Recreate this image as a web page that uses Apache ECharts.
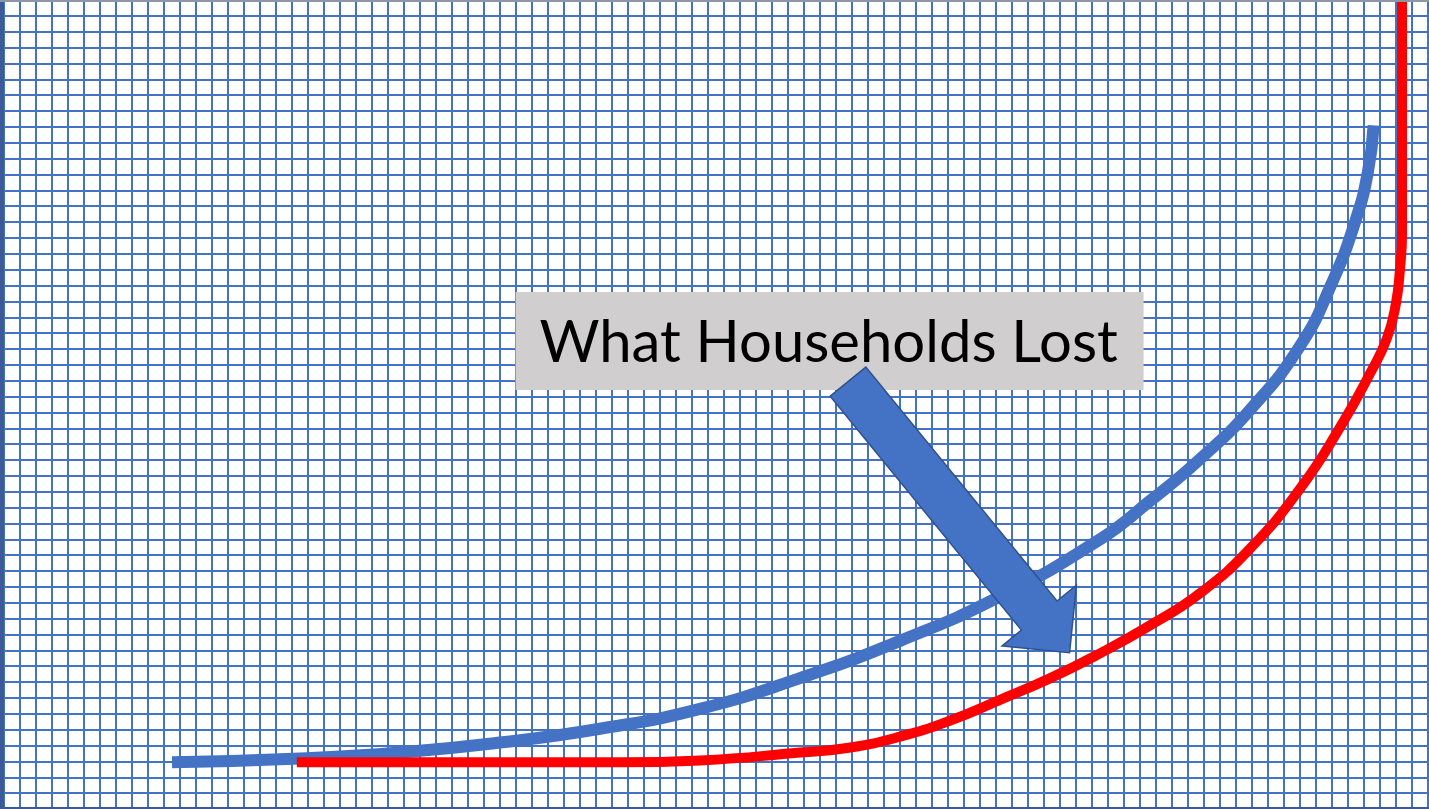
<!DOCTYPE html>
<html>
<head>
<meta charset="utf-8">
<script src="https://cdn.jsdelivr.net/npm/echarts@6/dist/echarts.min.js"></script>
<style>
  html, body { margin: 0; padding: 0; background: #fff; }
  #main { width: 1429px; height: 809px; }
</style>
</head>
<body>
<div id="main"></div>
<script>
// everything is in graph-paper units: one grid square = 1
const blueX = [10.5, 18.5, 24.75, 31.0, 37.25, 43.5, 49.75, 56.0, 62.25, 68.5, 71.6, 74.75, 77.9, 81.0, 82.9, 84.44, 85.25, 85.6];
const blueY = [2.94, 3.19, 3.56, 4.19, 5.06, 6.31, 8.25, 10.6, 13.4, 17.0, 19.4, 22.06, 25.19, 29.19, 32.94, 37.0, 40.19, 43.1];

const redX = [18.3, 38.6, 43.5, 49.75, 52.9, 56.0, 59.1, 62.25, 65.4, 68.5, 71.6, 74.75, 77.9, 81.0, 83.5, 85.4, 86.44, 87.0, 87.25, 87.375, 87.375, 87.375];
const redY = [2.94, 2.94, 3.06, 3.56, 3.88, 4.56, 5.56, 6.88, 8.25, 9.81, 11.56, 13.6, 16.44, 20.19, 24.06, 27.5, 29.7, 31.9, 34.06, 36.25, 40.0, 51.5];

const labelText = 'What Households Lost';
const labelAt = [51.6, 29.5];      // centre of the grey box
const arrowFrom = [52.75, 26.94];  // tail of the block arrow
const arrowTo = [66.6, 9.85];      // its tip

const pairs = (xs, ys) => xs.map((x, i) => [x, ys[i]]);

const chart = echarts.init(document.getElementById('main'));

const paperAxis = (max) => ({
  type: 'value',
  min: 0,
  max: max,
  interval: 1,
  axisLine: { show: false },
  axisTick: { show: false },
  axisLabel: { show: false },
  splitLine: { show: true, lineStyle: { color: '#4472C4', width: 2 } }
});

chart.setOption({
  animation: false,
  backgroundColor: '#fff',
  grid: { left: 4, right: 0, top: -6, bottom: -1 },
  xAxis: paperAxis(1425 / 16),
  yAxis: paperAxis(51),
  series: [
    {
      type: 'line',
      data: pairs(blueX, blueY),
      symbol: 'none',
      smooth: 0.5,
      smoothConstraint: false,
      lineStyle: { color: '#4472C4', width: 12, cap: 'butt' },
      z: 3
    },
    {
      type: 'line',
      data: pairs(redX, redY),
      symbol: 'none',
      smooth: 0.5,
      smoothConstraint: false,
      lineStyle: { color: '#FF0000', width: 10, cap: 'butt' },
      z: 4
    }
  ]
});

// annotations placed from data coordinates
const toPx = (p) => chart.convertToPixel({ gridIndex: 0 }, p);

const a0 = toPx(arrowFrom);
const a1 = toPx(arrowTo);
const dx = a1[0] - a0[0], dy = a1[1] - a0[1];
const len = Math.hypot(dx, dy);
const ux = dx / len, uy = dy / len;
const nx = -uy, ny = ux;
const shaftW = 23, headW = 48, headL = 48;
const bx = a1[0] - ux * headL, by = a1[1] - uy * headL;
const arrowPts = [
  [a0[0] + nx * shaftW, a0[1] + ny * shaftW],
  [bx + nx * shaftW, by + ny * shaftW],
  [bx + nx * headW, by + ny * headW],
  [a1[0], a1[1]],
  [bx - nx * headW, by - ny * headW],
  [bx - nx * shaftW, by - ny * shaftW],
  [a0[0] - nx * shaftW, a0[1] - ny * shaftW]
];

const lc = toPx(labelAt);
const boxW = 628, boxH = 98;

chart.setOption({
  graphic: [
    { type: 'rect', z: 100, shape: { x: 0, y: 0, width: 4, height: 809 }, style: { fill: '#3B5A96' } },
    { type: 'rect', z: 100, shape: { x: 0, y: 0, width: 1429, height: 2 }, style: { fill: '#8D97A8' } },
    { type: 'rect', z: 100, shape: { x: 0, y: 807, width: 1429, height: 2 }, style: { fill: '#3B5A96' } },
    {
      type: 'rect', z: 100,
      shape: { x: lc[0] - boxW / 2, y: lc[1] - boxH / 2, width: boxW, height: boxH },
      style: { fill: '#D0CECE' }
    },
    {
      type: 'text', z: 101,
      style: {
        text: labelText, x: lc[0] - 1, y: lc[1] + 2,
        fill: '#000', fontSize: 58, fontFamily: 'Lato',
        align: 'center', verticalAlign: 'middle'
      }
    },
    {
      type: 'polygon', z: 100,
      shape: { points: arrowPts },
      style: { fill: '#4472C4', stroke: '#2F528F', lineWidth: 1.5 }
    }
  ]
});
</script>
</body>
</html>
